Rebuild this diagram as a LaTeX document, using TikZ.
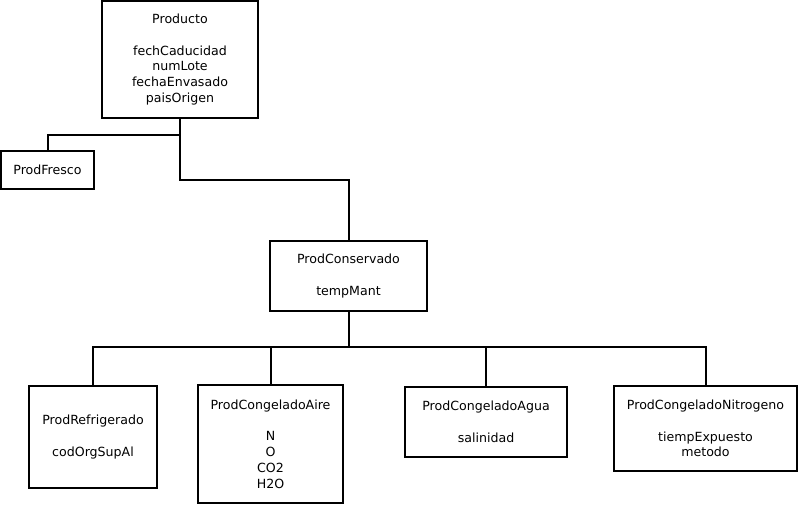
\documentclass[tikz,border=0pt]{standalone}
\usepackage{fontspec}
\setmainfont{DejaVu Sans}
\begin{document}
\begin{tikzpicture}[x=1pt,y=-1pt,
  cls/.style={draw=black,line width=2pt,inner sep=0pt,align=center,
    font=\fontsize{12.6}{15.8}\selectfont},
  conn/.style={draw=black,line width=2pt}]
\useasboundingbox (0,0) rectangle (799,506);
\node[cls,minimum width=156pt,minimum height=117pt] (Producto) at (180,59.5)
  {Producto\\[15.8pt]fechCaducidad\\numLote\\fechaEnvasado\\paisOrigen};
\node[cls,minimum width=93pt,minimum height=38pt] (Fresco) at (47.5,170) {ProdFresco};
\node[cls,minimum width=157pt,minimum height=70pt] (Conservado) at (348.5,276)
  {ProdConservado\\[15.8pt]tempMant};
\node[cls,minimum width=128pt,minimum height=102pt] (Refrigerado) at (93,437)
  {ProdRefrigerado\\[15.8pt]codOrgSupAl};
\node[cls,minimum width=145pt,minimum height=118pt] (Aire) at (270.5,444)
  {ProdCongeladoAire\\[15.8pt]N\\O\\CO2\\H2O};
\node[cls,minimum width=162pt,minimum height=70pt] (Agua) at (486,422)
  {ProdCongeladoAgua\\[15.8pt]salinidad};
\node[cls,minimum width=183pt,minimum height=85pt] (Nitro) at (705.5,428.5)
  {ProdCongeladoNitrogeno\\[15.8pt]tiempExpuesto\\metodo};
\coordinate (j1) at (180,135);
\coordinate (j2) at (180,180);
\coordinate (b) at (348.5,347);
\draw[conn] (Producto.south) -- (j2) -| (Conservado.north);
\draw[conn] (j1) -| (Fresco.north);
\draw[conn] (Conservado.south) -- (b);
\draw[conn] (b) -| (Refrigerado.north);
\draw[conn] (b) -| (Aire.north);
\draw[conn] (b) -| (Agua.north);
\draw[conn] (b) -| (Nitro.north);
\end{tikzpicture}
\end{document}
